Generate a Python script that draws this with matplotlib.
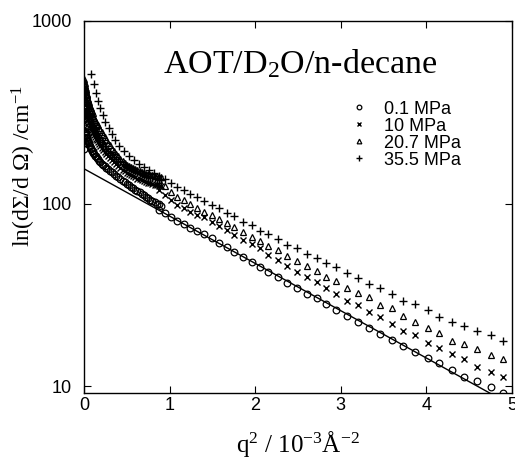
import matplotlib
matplotlib.use('Agg')
import matplotlib.pyplot as plt
from matplotlib.ticker import NullLocator

plt.rcParams['font.family'] = ['Liberation Sans', 'DejaVu Sans']
plt.rcParams['mathtext.fontset'] = 'custom'
plt.rcParams['mathtext.rm'] = 'Liberation Serif'
plt.rcParams['mathtext.it'] = 'Liberation Serif:italic'

# q^2 in 1e-3 A^-2, low-q (dense) detector setting, two runs
q2_dense = [0.003, 0.008, 0.013, 0.018, 0.025, 0.035, 0.045, 0.055, 0.07, 0.085,
            0.10, 0.12, 0.14, 0.16, 0.19, 0.22, 0.26, 0.30, 0.35, 0.40,
            0.45, 0.50, 0.55, 0.60, 0.65, 0.70, 0.75, 0.80, 0.85, 0.90]
I01_dense = [200, 215, 250, 242, 236, 228, 221, 215, 207, 200,
             194, 187, 181, 176, 169, 163, 157, 151, 145, 139,
             133, 128, 123, 119, 115, 111, 107, 103, 100, 97]
I10_dense = [260, 300, 330, 322, 312, 300, 290, 281, 268, 257,
             248, 236, 226, 218, 206, 197, 187, 178, 168, 160,
             153, 147, 143, 139, 136, 133, 130, 128, 126, 124]
I207_dense = [480, 455, 440, 425, 410, 392, 376, 362, 342, 326,
              312, 295, 280, 268, 252, 238, 222, 208, 193, 181,
              171, 163, 158, 154, 150, 147, 145, 143, 141, 139]
I355_dense = [380, 420, 400, 385, 368, 350, 335, 322, 305, 290,
              277, 262, 249, 238, 224, 212, 200, 190, 180, 172,
              165, 159, 154, 150, 147, 144, 141, 139, 137, 135]

q2_dense2 = [0.005, 0.010, 0.015, 0.021, 0.030, 0.040, 0.050, 0.062, 0.077, 0.092,
             0.11, 0.13, 0.15, 0.175, 0.205, 0.24, 0.28, 0.325, 0.375, 0.425,
             0.475, 0.525, 0.575, 0.625, 0.675, 0.725, 0.775, 0.825, 0.875]
I01_dense2 = [230, 258, 246, 238, 230, 224, 216, 209, 201, 195,
              188, 182, 177, 171, 165, 160, 154, 148, 142, 136,
              131, 126, 121, 117, 113, 109, 105, 102, 99]
I10_dense2 = [280, 345, 318, 318, 305, 296, 286, 275, 263, 254,
              243, 232, 222, 212, 201, 192, 183, 173, 164, 157,
              150, 145, 141, 137, 134, 131, 129, 127, 125]
I207_dense2 = [470, 445, 432, 418, 400, 384, 369, 352, 334, 320,
               303, 288, 274, 260, 245, 230, 215, 200, 187, 176,
               167, 160, 156, 152, 149, 146, 144, 142, 140]
I355_dense2 = [360, 410, 392, 378, 360, 342, 328, 313, 297, 284,
               270, 256, 244, 231, 218, 206, 195, 185, 176, 168,
               162, 156, 152, 148, 145, 142, 140, 138, 136]

# higher-q setting
q2_sparse = [0.882, 0.949, 1.018, 1.090, 1.164, 1.241, 1.320, 1.402, 1.492, 1.581,
             1.667, 1.756, 1.861, 1.959, 2.056, 2.153, 2.263, 2.368, 2.485, 2.602,
             2.718, 2.827, 2.944, 3.076, 3.205, 3.333, 3.458, 3.595, 3.723, 3.867,
             4.015, 4.151, 4.296, 4.443, 4.588, 4.755, 4.895]
I01_sparse = [92, 88.5, 84.5, 80.5, 77, 73.5, 70.5, 67.8, 64.5, 61.0,
              58.0, 54.4, 51.1, 48.0, 44.7, 42.3, 39.4, 36.8, 34.6, 31.9,
              30.2, 28.0, 26.1, 24.2, 22.5, 20.7, 19.3, 17.9, 16.6, 15.4,
              14.2, 13.3, 12.2, 11.2, 10.6, 9.84, 9.19]
I10_sparse = [118, 111, 104, 98, 94, 90, 87, 84.0, 79.5, 75.3,
              71.6, 67.2, 63.1, 60.0, 56.8, 52.2, 49.0, 45.4, 42.3, 39.7,
              37.3, 34.3, 31.9, 29.3, 27.8, 25.5, 23.8, 21.9, 20.1, 19.0,
              17.3, 16.1, 15.0, 14.0, 12.7, 12.0, 11.2]
I207_sparse = [135, 125, 116, 109, 104, 100, 95, 90.2, 86.5, 81.9,
               77.9, 74.1, 70.0, 65.8, 62.6, 58.5, 55.6, 51.6, 48.6, 45.4,
               42.8, 39.7, 37.8, 34.3, 32.2, 30.6, 27.8, 26.7, 24.2, 22.5,
               20.7, 19.5, 17.7, 17.0, 15.9, 14.8, 14.0]
q2_plus = [0.085, 0.113, 0.140, 0.164, 0.190, 0.218, 0.249, 0.289, 0.327, 0.366,
           0.412, 0.464, 0.522, 0.58, 0.64, 0.70, 0.76, 0.82] + q2_sparse
I355_sparse = [513, 452, 402, 366, 332, 305, 281, 258, 240, 223,
               207, 195, 182, 173, 165, 158, 152, 147,
               142, 136, 130, 123, 119, 113, 108, 103.6, 98.1, 94.1,
               88.4, 85.8, 79.5, 76.2, 71.0, 68.1, 63.7, 59.2, 56.8, 52.9,
               50.1, 47.4, 45.1, 41.5, 39.2, 36.1, 34.3, 31.9, 29.3, 28.0,
               26.1, 23.8, 22.5, 21.4, 20.1, 19.0, 17.6]

# Guinier fit for 0.1 MPa
fit_q2 = [0.0, 5.0]
fit_I = [155, 7.84]

labels = ['0.1 MPa', '10 MPa', '20.7 MPa', '35.5 MPa']

fig = plt.figure(figsize=(5.15, 4.61), dpi=100)
ax = fig.add_axes([0.1631, 0.1475, 0.831, 0.807])

circ = dict(marker='o', ms=4.8, mfc='none', mec='black', mew=0.9, ls='none')
cross = dict(marker='x', ms=4.3, mec='black', mew=1.0, ls='none')
tri = dict(marker='^', ms=4.8, mfc='none', mec='black', mew=0.9, ls='none')
plus = dict(marker='+', ms=5.5, mec='black', mew=1.0, ls='none')

ax.plot(fit_q2, fit_I, color='black', lw=1.0)
ax.plot(q2_dense, I01_dense, **circ)
ax.plot(q2_dense2, I01_dense2, **circ)
h1, = ax.plot(q2_sparse, I01_sparse, label=labels[0], **circ)
ax.plot(q2_dense, I10_dense, **cross)
ax.plot(q2_dense2, I10_dense2, **cross)
h2, = ax.plot(q2_sparse, I10_sparse, label=labels[1], **cross)
ax.plot(q2_dense, I207_dense, **tri)
ax.plot(q2_dense2, I207_dense2, **tri)
h3, = ax.plot(q2_sparse, I207_sparse, label=labels[2], **tri)
ax.plot(q2_dense, I355_dense, **plus)
ax.plot(q2_dense2, I355_dense2, **plus)
h4, = ax.plot(q2_plus, I355_sparse, label=labels[3], **plus)

ax.set_yscale('log')
ax.set_xlim(0, 5)
ax.set_ylim(9.16, 1000)
ax.set_xticks([0, 1, 2, 3, 4, 5])
ax.set_yticks([10, 100, 1000])
ax.set_yticklabels(['10', '100', '1000'])
ax.yaxis.set_minor_locator(NullLocator())
ax.tick_params(which='both', direction='in', top=True, right=True,
               length=5, width=0.8, labelsize=13)
ax.tick_params(axis='x', pad=3)
ax.tick_params(axis='y', pad=8.5)
for s in ax.spines.values():
    s.set_linewidth(1.0)

ax.set_xlabel(r'q$^2$ / 10$^{-3}$Å$^{-2}$', family='Liberation Serif', fontsize=18, labelpad=11)
ax.set_ylabel(r'ln(dΣ/d Ω) /cm$^{-1}$', family='Liberation Serif', fontsize=17)
ax.yaxis.set_label_coords(-0.108, 0.61)

ax.text(0.185, 0.86, r'AOT/D$_2$O/n-decane', transform=ax.transAxes,
        family='Liberation Serif', fontsize=24.5, va='baseline', ha='left')

ax.legend(handles=[h1, h2, h3, h4], loc='upper left', bbox_to_anchor=(0.60, 0.81),
          frameon=False, fontsize=13, markerscale=0.7, handlelength=1.0,
          handletextpad=0.9, labelspacing=0.0, borderpad=0)

fig.savefig('out.png', dpi=100)
